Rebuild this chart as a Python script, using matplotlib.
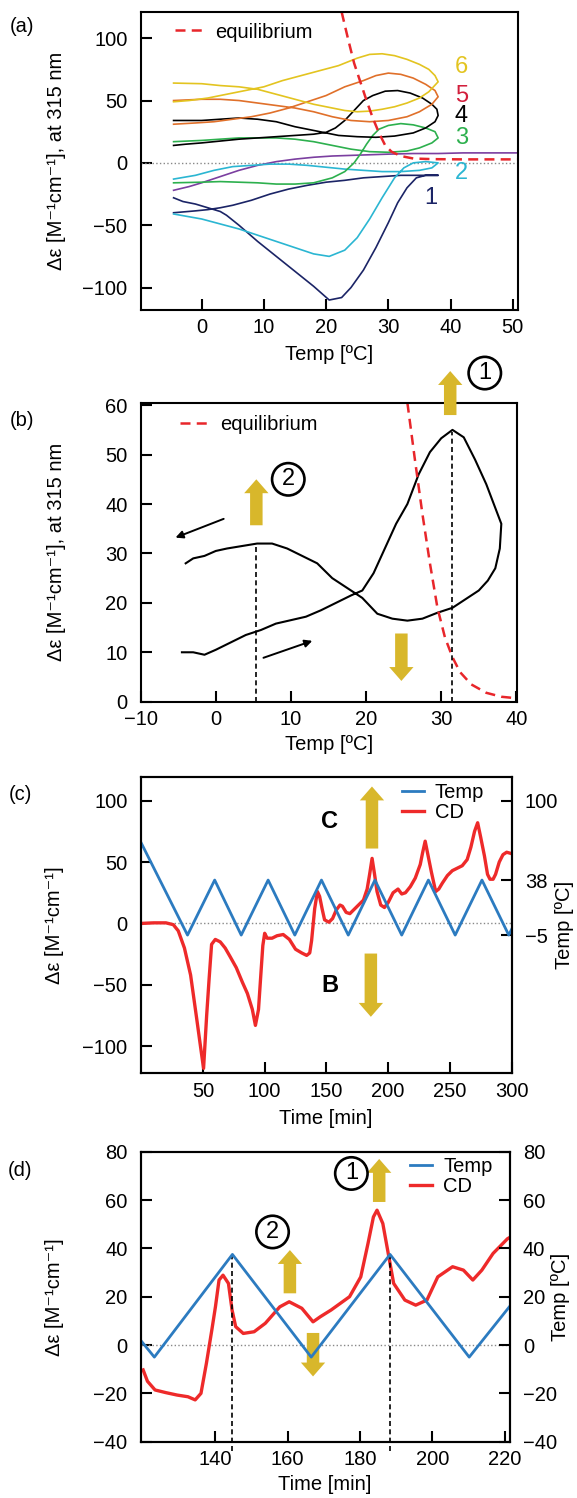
import matplotlib
matplotlib.use("Agg")
import matplotlib.pyplot as plt

plt.rcParams['font.family'] = ['Liberation Sans', 'DejaVu Sans']

# ------------------------------------------------------------
# (a) hysteresis loops, CD at 315 nm vs temperature
# ------------------------------------------------------------
a1_x = [-4.5, -3, -1, 1, 3, 4, 6, 9, 12, 15, 18, 20.5, 22.5, 24, 26, 28, 30, 31.5, 33, 34.5, 36, 38,
        35, 32, 29, 26, 23, 20, 17, 14, 11, 8, 5, 3, 1, -1, -4.5]
a1_y = [-28, -31, -33, -36, -39, -42, -50, -63, -75, -87, -99, -110, -108, -100, -86, -68, -48, -32, -20, -12, -10, -10,
        -10, -10, -11, -12, -14, -15.5, -18, -21, -25, -30, -34, -36, -37.5, -38.5, -40]
a2_x = [-4.5, 0, 3, 6, 9, 12, 15, 18, 20.5, 23, 25, 27, 29, 31, 32.5, 34, 36, 38,
        37, 35, 32, 29, 26, 23, 20, 17, 14, 11, 8, 5, 2, -1, -4.5]
a2_y = [-41, -45, -49, -53, -58, -63, -68, -73, -75, -70, -60, -45, -28, -12, -4, 0, 1, 0,
        -4, -6, -7, -7, -6, -5, -3.5, -2, -1, -1, -2, -3, -6, -10, -13]
a3_x = [-4.5, 0, 3, 6, 9, 12, 15, 18, 21, 24, 27, 30, 33, 35, 37, 38,
        37.5, 36, 34, 32, 30, 28.5, 27.5, 26.5, 25.5, 24.5, 23, 21, 18, 15, 12, 9, 6, 3, 0, -4.5]
a3_y = [17, 18, 19, 20, 20, 20, 19, 17, 14, 11, 9, 8.5, 9.5, 12, 16, 20,
        25, 28, 30.5, 31.5, 30, 27, 22, 15, 7, 0, -7, -12, -16, -17, -17, -16, -15.5, -15, -15.5, -16]
a4_x = [-4.5, 0, 3, 6, 9, 12, 15, 18, 20, 22, 25, 28, 31, 34, 36, 37.5, 38,
        37.8, 37, 35.5, 33.5, 31.5, 29.5, 27.5, 26, 24.5, 23, 21.5, 20, 18, 15, 12, 9, 6, 3, 0, -2.5, -4.5]
a4_y = [34, 34, 35, 36, 35, 33, 29, 26, 24, 22, 21, 20.5, 21.5, 24, 28, 33, 38,
        43, 47, 52, 56, 58, 57.5, 54, 50, 42, 34, 28, 24.5, 23, 22, 21, 20, 19, 17.5, 16, 15, 14]
a5_x = [-4.5, 0, 3, 6, 9, 12, 15, 18, 21, 24, 27, 30, 33, 35, 37, 38,
        37.5, 36, 34, 32, 30, 28, 26, 23, 20, 17, 14, 11, 8, 5, 2, -1, -4.5]
a5_y = [50, 51, 51, 50, 48, 46, 44, 41, 37, 34, 33, 34, 37, 41, 47, 53,
        58, 63, 68, 71, 72, 70, 66, 61, 54, 49, 44, 40, 37, 35, 33, 32, 31]
a6_x = [-4.5, 0, 3, 6, 9, 12, 15, 18, 21, 23, 25, 27, 29, 31, 33, 35, 36.5, 38,
        37.5, 36.5, 35, 33, 31, 29, 27, 25, 22, 19, 16, 13, 10, 7, 4, 1, -2, -4.5]
a6_y = [64, 63.5, 62, 61, 59, 55, 51, 47, 44, 42, 41, 41.5, 43, 45, 48, 52, 57, 65,
        70, 75, 79, 83, 86, 87.5, 87, 84, 78, 74, 70, 66, 61, 58, 55, 52, 50, 49]
ap_x = [-4.5, -2, 0, 3, 6, 9, 12, 15, 18, 21, 24, 27, 30, 34, 38, 42, 46, 51]
ap_y = [-22, -19, -16, -11, -6, -2, 1, 3, 4.5, 5.5, 6, 6.5, 7, 7.5, 7.5, 8, 8, 8]
aeq_x = [22.5, 23.5, 24.5, 25.5, 26.5, 27.5, 28.5, 29.5, 30.5, 32, 34, 37, 42, 51]
aeq_y = [121, 100, 80, 65, 50, 36, 24, 14, 9, 5.5, 3.5, 3, 2.8, 2.8]

# run labels 1..6 (x, y)
run_labels = ['1', '2', '3', '4', '5', '6']
run_lab_x = [35.8, 40.7, 40.7, 40.7, 40.7, 40.7]
run_lab_y = [-28, -8, 20, 37.5, 54, 77]

# ------------------------------------------------------------
# (b) one loop with equilibrium curve
# ------------------------------------------------------------
b_x = [-4.5, -3, -1.5, 0, 2, 4, 6, 8, 10, 12, 14, 16, 18, 19.5, 21, 22.5, 24, 25.5, 27, 28.5,
       30, 31.5, 33, 34.5, 36, 37, 38,
       37.8, 37.2, 36.2, 35, 33.5, 31.5, 29.5, 27.5, 25.5, 23.5, 21.5, 19.5, 17.5, 15.5,
       13.5, 11.5, 9.5, 7.5, 5.5, 3.5, 1.5, 0, -1.5, -3, -4]
b_y = [10, 10, 9.5, 10.5, 12, 13.5, 14.5, 15.8, 16.5, 17.2, 18.5, 20, 21.5, 22.5, 26, 31, 36, 40, 46, 50.5,
       53.3, 55, 53.5, 49, 44, 40, 36,
       31, 27, 24.5, 22.5, 21, 19, 18, 16.8, 16.4, 16.8, 17.8, 21, 23, 25,
       28, 29.5, 31, 32, 32, 31.5, 31, 30.5, 29.5, 29, 28]
beq_x = [25.5, 26.5, 27.5, 28.5, 29.5, 30.5, 31.5, 32.5, 34, 36, 38, 40]
beq_y = [60.5, 49, 38, 28, 19, 13, 9, 6, 3.5, 1.8, 1, 0.7]
b_marks = [5.3, 31.4]
b_mark_tops = [31.5, 54.6]

# ------------------------------------------------------------
# (c) CD and temperature vs time
# ------------------------------------------------------------
c_time = [0, 10, 20, 26, 30, 35, 40, 45, 48, 50.5,
          53, 55, 57, 60, 64, 68, 72, 77, 82, 86,
          90, 92.5, 95, 97, 98.5, 100, 102, 106, 110, 115,
          120, 125, 130, 134, 136.5, 138, 140.5, 142.7, 144.5, 146.5,
          148.5, 152, 155, 158, 161, 163, 166, 169, 172, 176,
          180, 183, 185, 187, 189, 191, 194, 197, 200, 204,
          208, 211, 214, 218, 222, 226, 228, 230, 232, 235,
          238.5, 241, 244, 248, 252, 256, 260, 264, 267, 270,
          272.5, 275, 278, 280.5, 282.5, 285, 287, 290, 293, 296, 299.5]
c_cd = [0, 0.5, 0.5, -1, -6, -20, -42, -78, -100, -118,
        -75, -45, -17, -13, -15, -20, -27, -36, -48, -57,
        -70, -83, -70, -40, -18, -8, -12, -12, -10, -9,
        -13, -21, -24, -26, -24, -14, 12, 26, 22, 12,
        3, 1, 4, 11, 15, 14, 9, 8, 11, 15,
        19, 28, 40, 53, 40, 26, 15, 13, 17, 25,
        28, 24, 25, 30, 37, 48, 58, 67, 57, 42,
        26, 28, 33, 39, 43, 45, 47, 52, 62, 75,
        82, 70, 55, 40, 36, 36, 40, 50, 56, 58, 57]
c_temp_t = [0, 37.5, 59.5, 81, 102.8, 124.4, 146, 167.7, 189.3, 211, 232.6, 254.3, 276, 297.7, 300]
c_temp_v = [67, -5, 38, -5, 38, -5, 38, -5, 38, -5, 38, -5, 38, -5, -0.5]

# ------------------------------------------------------------
# (d) zoom of (c)
# ------------------------------------------------------------
d_time = [120, 121.2, 123.3, 126.3, 129.4, 132.4, 134.4, 136, 137.5, 139,
          140, 141, 142.1, 143.6, 144.6, 145.6, 147.7, 150.7, 153.8, 157.8,
          160.4, 163.9, 167, 169, 172, 177.1, 180.2, 182.2, 183.7, 184.7,
          186.3, 187.8, 189.3, 192.4, 195.4, 198.5, 201.5, 205.6, 208.6, 211.2,
          213.7, 216.8, 220.8, 221.4]
d_cd = [-10.3, -15, -18.6, -19.7, -20.7, -21.4, -22.7, -20, -7.6, 6.2,
        15.8, 26.9, 28.9, 25.5, 14.5, 7.6, 4.8, 5.5, 9, 15.8,
        17.9, 15.2, 9.6, 11.7, 14.5, 20, 28.2, 42, 53, 55.8,
        50.3, 37.9, 25.5, 18.6, 16.5, 18.6, 28.2, 32.4, 31, 26.9,
        31, 37.9, 44, 44.5]
d_temp_t = [119.3, 123.1, 144.7, 166.5, 188.3, 210.2, 221.4]
d_temp_v = [2, -5, 37.5, -5, 37.5, -5, 16]
d_marks = [144.6, 188.3]

# colours
c_run = ['#1b2466', '#2bb6d2', '#2db04e', 'black', '#e0702a', '#e3c420']
c_runlab = ['#1b2466', '#2bb6d2', '#2db04e', 'black', '#d21f3c', '#e3c420']
c_purple = '#7b3fa0'
c_eq = '#e8262b'
c_cdred = '#ee2a2a'
c_blue = '#2c7bc0'
gold = '#d8b72b'

YLAB_A = 'Δε [M⁻¹cm⁻¹], at 315 nm'
YLAB_C = 'Δε [M⁻¹cm⁻¹]'
FS = 14.5

W, H = 577, 1498
fig = plt.figure(figsize=(W / 100, H / 100), dpi=100)


def px_axes(l, t, r, b):
    return fig.add_axes([l / W, 1 - b / H, (r - l) / W, (b - t) / H])


def ftext(x, y, s, **kw):
    fig.text(x / W, 1 - y / H, s, **kw)


def style(ax):
    for sp in ax.spines.values():
        sp.set_linewidth(1.5)
    ax.tick_params(direction='in', length=8, width=1.5, labelsize=FS)
    ax.tick_params(axis='y', pad=9.5)
    ax.tick_params(axis='x', pad=6)


def fat_arrow(ax, x, y0, y1):
    ax.annotate('', xy=(x, y1), xytext=(x, y0),
                arrowprops=dict(arrowstyle='simple,head_length=1.0,head_width=1.75,tail_width=0.9',
                                mutation_scale=10, fc=gold, ec='none',
                                shrinkA=0, shrinkB=0),
                annotation_clip=False)


def circ(ax, x, y, s):
    ax.text(x, y, s, ha='center', va='center', fontsize=17, clip_on=False,
            bbox=dict(boxstyle='circle,pad=0.22', fc='none', ec='black', lw=1.9))


def eq_legend(ax, x, y):
    ax.legend(loc='upper left', bbox_to_anchor=(x / W, 1 - y / H), bbox_transform=fig.transFigure,
              frameon=False, borderpad=0, borderaxespad=0, handlelength=1.35,
              handletextpad=0.65, fontsize=FS)


def td_legend(ax, handles, x, y):
    ax.legend(handles=handles, loc='upper left', bbox_to_anchor=(x / W, 1 - y / H),
              bbox_transform=fig.transFigure, frameon=False, borderpad=0, borderaxespad=0,
              handlelength=1.1, handletextpad=0.55, labelspacing=0.05, fontsize=FS)


# ============================================================ (a)
ax = px_axes(140.6, 12, 517.8, 310)
style(ax)
ax.axhline(0, color='#888888', ls=':', lw=1)
ax.plot(ap_x, ap_y, color=c_purple, lw=1.2)
loops = [(a1_x, a1_y), (a2_x, a2_y), (a3_x, a3_y), (a4_x, a4_y), (a5_x, a5_y), (a6_x, a6_y)]
for (lx, ly), col in zip(loops, c_run):
    ax.plot(lx, ly, color=col, lw=1.2)
ax.plot(aeq_x, aeq_y, color=c_eq, lw=1.8, dashes=(4, 2.5), label='equilibrium')
for s, x, y, col in zip(run_labels, run_lab_x, run_lab_y, c_runlab):
    ax.text(x, y, s, color=col, fontsize=17, ha='left', va='center')
ax.set_xlim(-9.8, 50.8)
ax.set_ylim(-118, 121)
ax.set_xticks([0, 10, 20, 30, 40, 50])
ax.set_yticks([-100, -50, 0, 50, 100])
eq_legend(ax, 174.8, 22.5)
ftext(22, 27, '(a)', fontsize=FS, ha='center', va='center')
ftext(57, 161, YLAB_A, fontsize=FS, rotation=90, ha='center', va='center')
ftext(329, 355, 'Temp [ºC]', fontsize=FS, ha='center', va='center')

# ============================================================ (b)
ax = px_axes(140.6, 402.7, 517.1, 701.7)
style(ax)
ax.plot(b_x, b_y, color='black', lw=1.5)
ax.plot(beq_x, beq_y, color=c_eq, lw=1.8, dashes=(4, 2.5), label='equilibrium')
for mx, top in zip(b_marks, b_mark_tops):
    ax.plot([mx, mx], [0, top], color='black', lw=1.2, dashes=(3, 2))
ax.annotate('', xy=(-5.7, 33), xytext=(1.4, 37.2),
            arrowprops=dict(arrowstyle='-|>', lw=1.4, color='black', mutation_scale=11))
ax.annotate('', xy=(13.2, 12.5), xytext=(6.0, 8.7),
            arrowprops=dict(arrowstyle='-|>', lw=1.4, color='black', mutation_scale=11))
fat_arrow(ax, 31.2, 58, 66.9)
fat_arrow(ax, 5.4, 35.7, 45)
fat_arrow(ax, 24.7, 13.8, 4.2)
circ(ax, 35.8, 66.5, '1')
circ(ax, 9.65, 45, '2')
ax.set_xlim(-10, 40.1)
ax.set_ylim(0, 60.5)
ax.set_xticks([-10, 0, 10, 20, 30, 40])
ax.set_yticks([0, 10, 20, 30, 40, 50, 60])
eq_legend(ax, 179.6, 415)
ftext(22, 421, '(b)', fontsize=FS, ha='center', va='center')
ftext(57, 552, YLAB_A, fontsize=FS, rotation=90, ha='center', va='center')
ftext(329, 745, 'Temp [ºC]', fontsize=FS, ha='center', va='center')

# ============================================================ (c)
ax = px_axes(140.6, 777.3, 511.6, 1073.3)
style(ax)
ax.axhline(0, color='#888888', ls=':', lw=1)
l_cd, = ax.plot(c_time, c_cd, color=c_cdred, lw=2.4, label='CD')
ax.set_xlim(-0.5, 300)
ax.set_ylim(-122, 119)
ax.set_xticks([50, 100, 150, 200, 250, 300])
ax.set_yticks([-100, -50, 0, 50, 100])
fat_arrow(ax, 186.9, 61, 111.5)
fat_arrow(ax, 186.0, -24.5, -76)
ax.text(152.5, 83, 'C', fontsize=17, fontweight='bold', ha='center', va='center')
ax.text(152.5, -50.5, 'B', fontsize=17, fontweight='bold', ha='center', va='center')
tw = ax.twinx()
style(tw)
l_t, = tw.plot(c_temp_t, c_temp_v, color=c_blue, lw=2, label='Temp')
tw.set_ylim(-113, 118.3)
tw.set_yticks([-5, 38, 100])
td_legend(tw, [l_t, l_cd], 401.7, 783)
ftext(20, 795, '(c)', fontsize=FS, ha='center', va='center')
ftext(55, 925, YLAB_C, fontsize=FS, rotation=90, ha='center', va='center')
ftext(565, 925, 'Temp [ºC]', fontsize=FS, rotation=90, ha='center', va='center')
ftext(326, 1118, 'Time [min]', fontsize=FS, ha='center', va='center')

# ============================================================ (d)
ax = px_axes(140.6, 1151.7, 509.7, 1441.7)
style(ax)
ax.axhline(0, color='#888888', ls=':', lw=1)
l_cd, = ax.plot(d_time, d_cd, color=c_cdred, lw=2.4, label='CD')
for mx in d_marks:
    ax.plot([mx, mx], [-44, 37], color='black', lw=1.2, dashes=(3, 2), clip_on=False)
fat_arrow(ax, 185.3, 59.2, 77)
fat_arrow(ax, 160.6, 21.4, 39.3)
fat_arrow(ax, 167.0, 5, -13)
circ(ax, 177.6, 71, '1')
circ(ax, 155.8, 46.8, '2')
ax.set_xlim(119.3, 221.4)
ax.set_ylim(-40, 80)
ax.set_xticks([140, 160, 180, 200, 220])
ax.set_yticks([-40, -20, 0, 20, 40, 60, 80])
tw = ax.twinx()
style(tw)
l_t, = tw.plot(d_temp_t, d_temp_v, color=c_blue, lw=2, label='Temp')
tw.set_ylim(-40, 80)
tw.set_yticks([-40, -20, 0, 20, 40, 60, 80])
td_legend(tw, [l_t, l_cd], 410, 1157)
ftext(20, 1170, '(d)', fontsize=FS, ha='center', va='center')
ftext(55, 1297, YLAB_C, fontsize=FS, rotation=90, ha='center', va='center')
ftext(561, 1297, 'Temp [ºC]', fontsize=FS, rotation=90, ha='center', va='center')
ftext(325, 1484, 'Time [min]', fontsize=FS, ha='center', va='center')

fig.savefig('out.png', dpi=100)
